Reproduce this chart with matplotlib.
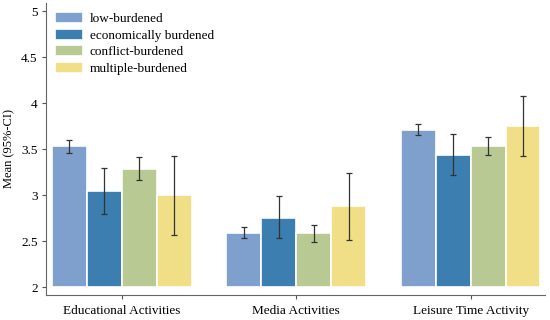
import matplotlib
matplotlib.use('Agg')
import matplotlib.pyplot as plt
import numpy as np

plt.rcParams['font.family'] = ['Liberation Serif', 'DejaVu Serif']

activities = ['Educational Activities', 'Media Activities', 'Leisure Time Activity']
groups = ['low-burdened', 'economically burdened', 'conflict-burdened', 'multiple-burdened']
colors = ['#7fa0cc', '#3b7eaf', '#b8c994', '#f0df86']

means = [[3.53, 2.59, 3.71],
         [3.04, 2.75, 3.44],
         [3.28, 2.59, 3.53],
         [3.00, 2.88, 3.75]]
ci_lo = [[3.46, 2.53, 3.65],
         [2.79, 2.53, 3.22],
         [3.16, 2.49, 3.44],
         [2.57, 2.51, 3.43]]
ci_hi = [[3.60, 2.65, 3.77],
         [3.29, 2.99, 3.66],
         [3.41, 2.68, 3.63],
         [3.43, 3.24, 4.08]]

fig = plt.figure(figsize=(5.5, 3.2), dpi=100, facecolor='w')
ax = fig.add_axes([46/550, 25/320, 499/550, 292/320])

x = np.arange(len(activities))
step = 0.2
base = 2.0
for i, g in enumerate(groups):
    pos = x + (i - 1.5) * step
    m = np.array(means[i])
    ax.bar(pos, m - base, bottom=base, width=step, color=colors[i],
           edgecolor='white', linewidth=1.2, label=g)
    lo = m - np.array(ci_lo[i])
    hi = np.array(ci_hi[i]) - m
    ax.errorbar(pos, m, yerr=[lo, hi], fmt='none', ecolor='#333333',
                elinewidth=0.9, capsize=2.5, capthick=0.9)

ax.set_xlim(-0.434, 2.426)
ax.set_ylim(1.913, 5.09)
ax.set_xticks(x)
ax.set_xticklabels(activities)
ax.set_yticks([2, 2.5, 3, 3.5, 4, 4.5, 5])
ax.set_yticklabels(['2', '2.5', '3', '3.5', '4', '4.5', '5'])
ax.set_ylabel('Mean (95%-CI)', fontsize=9)
ax.tick_params(labelsize=9.5, length=3, color='#555555', pad=3)
ax.tick_params(axis='x', pad=4)
for s in ['top', 'right']:
    ax.spines[s].set_visible(False)
for s in ['left', 'bottom']:
    ax.spines[s].set_color('#666666')

ax.legend(loc='upper left', bbox_to_anchor=(0.0, 1.0), frameon=False,
          fontsize=9.5, handlelength=2.1, handleheight=0.9, labelspacing=0.28,
          handletextpad=0.55, borderaxespad=0.28)

plt.savefig('out.png', dpi=100)
